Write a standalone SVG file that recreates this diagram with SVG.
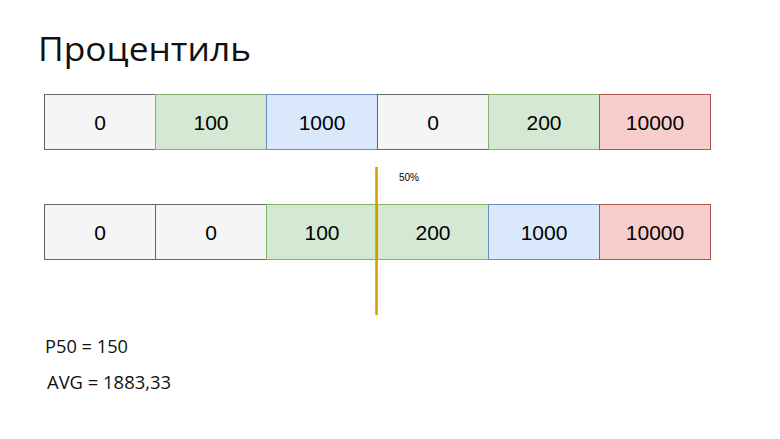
<svg xmlns="http://www.w3.org/2000/svg" width="780" height="439" viewBox="0 0 780 439">
<style>
.g{fill:#f5f5f5;stroke:#666666}
.gr{fill:#d5e8d4;stroke:#82b366}
.b{fill:#dae8fc;stroke:#6c8ebf}
.r{fill:#f8cecc;stroke:#b85450}
.t{font-family:"Liberation Sans",Arial,sans-serif;font-size:21px;fill:#000;text-anchor:middle;dominant-baseline:central}
.h{font-family:"Open Sans","Noto Sans",sans-serif;fill:#111}
</style>
<rect width="780" height="439" fill="#ffffff"/>
<text class="h" x="38" y="61" font-size="33" textLength="213" lengthAdjust="spacingAndGlyphs">Процентиль</text>
<g id="row1">
<g id="r1c1"><rect class="g" x="44.5" y="94.5" width="111" height="55"/><text class="t" x="100" y="122">0</text></g>
<g id="r1c2"><rect class="gr" x="155.5" y="94.5" width="111" height="55"/><text class="t" x="211" y="122">100</text></g>
<g id="r1c3"><rect class="b" x="266.5" y="94.5" width="111" height="55"/><text class="t" x="322" y="122">1000</text></g>
<g id="r1c4"><rect class="g" x="377.5" y="94.5" width="111" height="55"/><text class="t" x="433" y="122">0</text></g>
<g id="r1c5"><rect class="gr" x="488.5" y="94.5" width="111" height="55"/><text class="t" x="544" y="122">200</text></g>
<g id="r1c6"><rect class="r" x="599.5" y="94.5" width="111" height="55"/><text class="t" x="655" y="122">10000</text></g>
</g>
<g id="row2">
<g id="r2c1"><rect class="g" x="44.5" y="204.5" width="111" height="55"/><text class="t" x="100" y="232">0</text></g>
<g id="r2c2"><rect class="g" x="155.5" y="204.5" width="111" height="55"/><text class="t" x="211" y="232">0</text></g>
<g id="r2c3"><rect class="gr" x="266.5" y="204.5" width="111" height="55"/><text class="t" x="322" y="232">100</text></g>
<g id="r2c4"><rect class="gr" x="377.5" y="204.5" width="111" height="55"/><text class="t" x="433" y="232">200</text></g>
<g id="r2c5"><rect class="b" x="488.5" y="204.5" width="111" height="55"/><text class="t" x="544" y="232">1000</text></g>
<g id="r2c6"><rect class="r" x="599.5" y="204.5" width="111" height="55"/><text class="t" x="655" y="232">10000</text></g>
</g>
<g id="connectors">
<line x1="376.5" y1="167" x2="376.5" y2="315" stroke="#d79b00" stroke-width="2.5"/>
</g>
<text x="409" y="181" font-family="Liberation Sans,Arial,sans-serif" font-size="10" text-anchor="middle">50%</text>
<text class="h" x="45" y="353" font-size="18" textLength="83" lengthAdjust="spacingAndGlyphs">P50 = 150</text>
<text class="h" x="47" y="389" font-size="18" textLength="124" lengthAdjust="spacingAndGlyphs">AVG = 1883,33</text>
</svg>
